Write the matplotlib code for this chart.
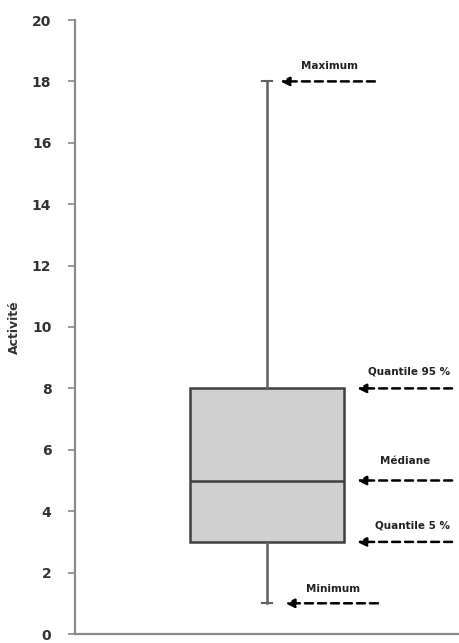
import matplotlib
matplotlib.use("Agg")
import matplotlib.pyplot as plt

stat_names = ["Minimum", "Quantile 5 %", "Médiane", "Quantile 95 %", "Maximum"]
stat_values = [1, 3, 5, 8, 18]
yticks = [0, 2, 4, 6, 8, 10, 12, 14, 16, 18, 20]

plt.rcParams['font.family'] = ['DejaVu Sans']

fig = plt.figure(figsize=(4.59, 6.43), dpi=100)
ax = fig.add_axes([75/459, 9/643, 384/459, 614/643])

stats = [dict(whislo=stat_values[0], q1=stat_values[1], med=stat_values[2],
              q3=stat_values[3], whishi=stat_values[4], fliers=[], label="")]
ax.bxp(stats, positions=[0.5], widths=0.4, patch_artist=True, showfliers=False,
       boxprops=dict(facecolor="#d0d0d0", edgecolor="#404040", linewidth=1.8),
       medianprops=dict(color="#404040", linewidth=1.8),
       whiskerprops=dict(color="#606060", linewidth=1.8),
       capprops=dict(color="#606060", linewidth=1.5), capwidths=0.025)

ax.set_xlim(0, 1)
ax.set_ylim(0, 20)
ax.set_yticks(yticks)
ax.set_xticks([])
for s in ["top", "right"]:
    ax.spines[s].set_visible(False)
for s in ["left", "bottom"]:
    ax.spines[s].set_color("#8a8a8a")
    ax.spines[s].set_linewidth(1.6)
ax.tick_params(axis="y", colors="#8a8a8a", length=5, width=1.2, labelsize=10,
               labelcolor="#333333", pad=12)
for t in ax.get_yticklabels():
    t.set_fontweight("bold")
ax.set_ylabel("Activité", fontsize=9, fontweight="bold", color="#333333", labelpad=8)

# annotations: (arrow head x, arrow tail x, label x, label offset)
ann = {
    "Maximum": (0.535, 0.781, 0.662, 0.49),
    "Quantile 95 %": (0.735, 0.982, 0.87, 0.55),
    "Médiane": (0.735, 0.982, 0.859, 0.62),
    "Quantile 5 %": (0.735, 0.982, 0.878, 0.55),
    "Minimum": (0.548, 0.789, 0.672, 0.46),
}
for name, val in zip(stat_names, stat_values):
    x0, x1, lx, off = ann[name]
    ax.annotate("", xy=(x0, val), xytext=(x1, val),
                arrowprops=dict(arrowstyle="-|>", linestyle=(0, (3.2, 2.0)), color="black",
                                lw=1.8, mutation_scale=13, shrinkA=0, shrinkB=0))
    ax.text(lx, val + off, name, ha="center", va="center", fontsize=7.5,
            fontweight="bold", color="#222222")

fig.savefig("out.png", dpi=100)
